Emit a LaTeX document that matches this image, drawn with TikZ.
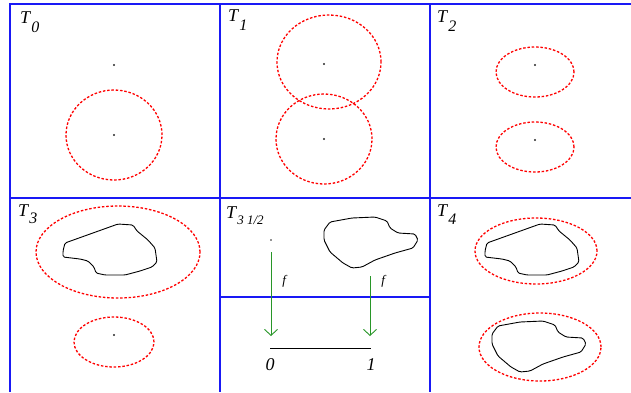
\documentclass[tikz,border=0pt]{standalone}
\usepackage{fontspec}
\setmainfont{Liberation Serif}
\usetikzlibrary{arrows.meta,positioning}
\definecolor{panelblue}{RGB}{25,25,245}
\definecolor{mapgreen}{RGB}{40,150,40}
\newcommand{\tname}[3]{\textit{T}\raisebox{-#3pt}{\fontsize{#2}{#2}\selectfont\textit{#1}}}
\tikzset{
  panelline/.style={
    draw=panelblue,
    line width=1.4pt
  },
  halo/.style={
    draw=red,
    line width=1.3pt,
    dash pattern=on 2.5pt off 1.8pt
  },
  blob/.style={
    draw=black,
    line width=0.9pt,
    rounded corners=1.5pt
  },
  centre/.style={
    circle,
    fill=black!85,
    inner sep=0pt,
    minimum size=2.2pt
  },
  tlabel/.style={
    anchor=base west,
    inner sep=0pt,
    font=\fontsize{18}{18}\selectfont
  },
  flabel/.style={
    inner sep=0pt,
    font=\fontsize{13}{13}\selectfont\itshape
  },
  numlabel/.style={
    inner sep=0pt,
    font=\fontsize{18}{18}\selectfont\itshape
  },
  farrow/.style={
    draw=mapgreen,
    line width=0.9pt,
    -{Straight Barb[length=6pt,width=13pt]}
  },
  shapeA/.pic={
    \draw[blob] (-45,-7) -- (8,-26) -- (23,-25) -- (27,-19) -- (38,-10)
      -- (45,-2) -- (47,12) -- (42,17) -- (30,21) -- (15,25) -- (-5,25)
      -- (-14,23) -- (-16,17) -- (-22,11) -- (-30,9) -- (-47,7) -- (-47,1)
      -- cycle;
  },
  shapeB/.pic={
    \draw[blob] (-46,-15) -- (-40,-23) -- (-18,-27) -- (5,-28) -- (17,-24)
      -- (20,-17) -- (28,-12) -- (45,-11) -- (48,-5) -- (43,3) -- (25,8)
      -- (5,15) -- (-8,22) -- (-18,23) -- (-27,18) -- (-40,7) -- (-46,-5)
      -- cycle;
  }
}

\begin{document}
\begin{tikzpicture}[x=1pt,y=-1pt]
\useasboundingbox (0,0) rectangle (631,392);

% panel frame
\draw[panelline, line width=2.2pt] (10,392) -- (10,4) -- (631,4);
\draw[panelline, line width=2pt] (220,4) -- (220,392);
\draw[panelline] (430,4) -- (430,392);
\draw[panelline] (10,198) -- (631,198);
\draw[panelline] (220,297) -- (430,297);

% T0
\node[tlabel] (t0) at (20,23) {\tname{0}{16}{9}};
\node[centre] (c0a) at (114,65) {};
\node[centre] (c0b) at (114,135) {};
\draw[halo] (c0b) ellipse [x radius=48pt, y radius=45pt];

% T1
\node[tlabel] (t1) at (228,21) {\tname{1}{16}{9}};
\node[centre] (c1a) at (324,64) {};
\node[centre] (c1b) at (324,139) {};
\draw[halo] (329,62) ellipse [x radius=52pt, y radius=47pt];
\draw[halo] (c1b) ellipse [x radius=48pt, y radius=45pt];

% T2
\node[tlabel] (t2) at (437,22) {\tname{2}{16}{9}};
\node[centre] (c2a) at (535,65) {};
\node[centre] (c2b) at (535,140) {};
\draw[halo] (535,72) ellipse [x radius=39pt, y radius=25pt];
\draw[halo] (535,147) ellipse [x radius=39pt, y radius=25pt];

% T3
\node[tlabel] (t3) at (18,216) {\tname{3}{16}{7}};
\draw[halo] (118,252) ellipse [x radius=82pt, y radius=46pt];
\pic at (110,250) {shapeA};
\node[centre] (c3) at (114,335) {};
\draw[halo] (114,342) ellipse [x radius=40pt, y radius=25pt];

% T3 1/2
\node[tlabel] (t35) at (226,218) {\tname{3 1/2}{13}{6}};
\node[centre, minimum size=1.6pt] (c35) at (271,240) {};
\pic at (370,245) {shapeB};
\coordinate (src0) at (271,252);
\coordinate (src1) at (370,276);
\coordinate (tip0) at (271,336);
\coordinate (tip1) at (370,336);
\draw[farrow] (src0) -- node[flabel, pos=0.35, right=11pt] (f0) {f} (tip0);
\draw[farrow] (src1) -- node[flabel, pos=0.08, right=11pt] (f1) {f} (tip1);
\coordinate (u0) at (270,348);
\coordinate (u1) at (371,348);
\draw[line width=0.9pt] (u0) -- (u1);
\node[numlabel, below=10pt of u0] (zero) {0};
\node[numlabel, below=10pt of u1] (one) {1};

% T4
\node[tlabel] (t4) at (437,216) {\tname{4}{16}{8}};
\draw[halo] (536,251) ellipse [x radius=61pt, y radius=33pt];
\pic at (532,250) {shapeA};
\draw[halo] (540,347) ellipse [x radius=61pt, y radius=34pt];
\pic at (538,349) {shapeB};

\end{tikzpicture}
\end{document}
